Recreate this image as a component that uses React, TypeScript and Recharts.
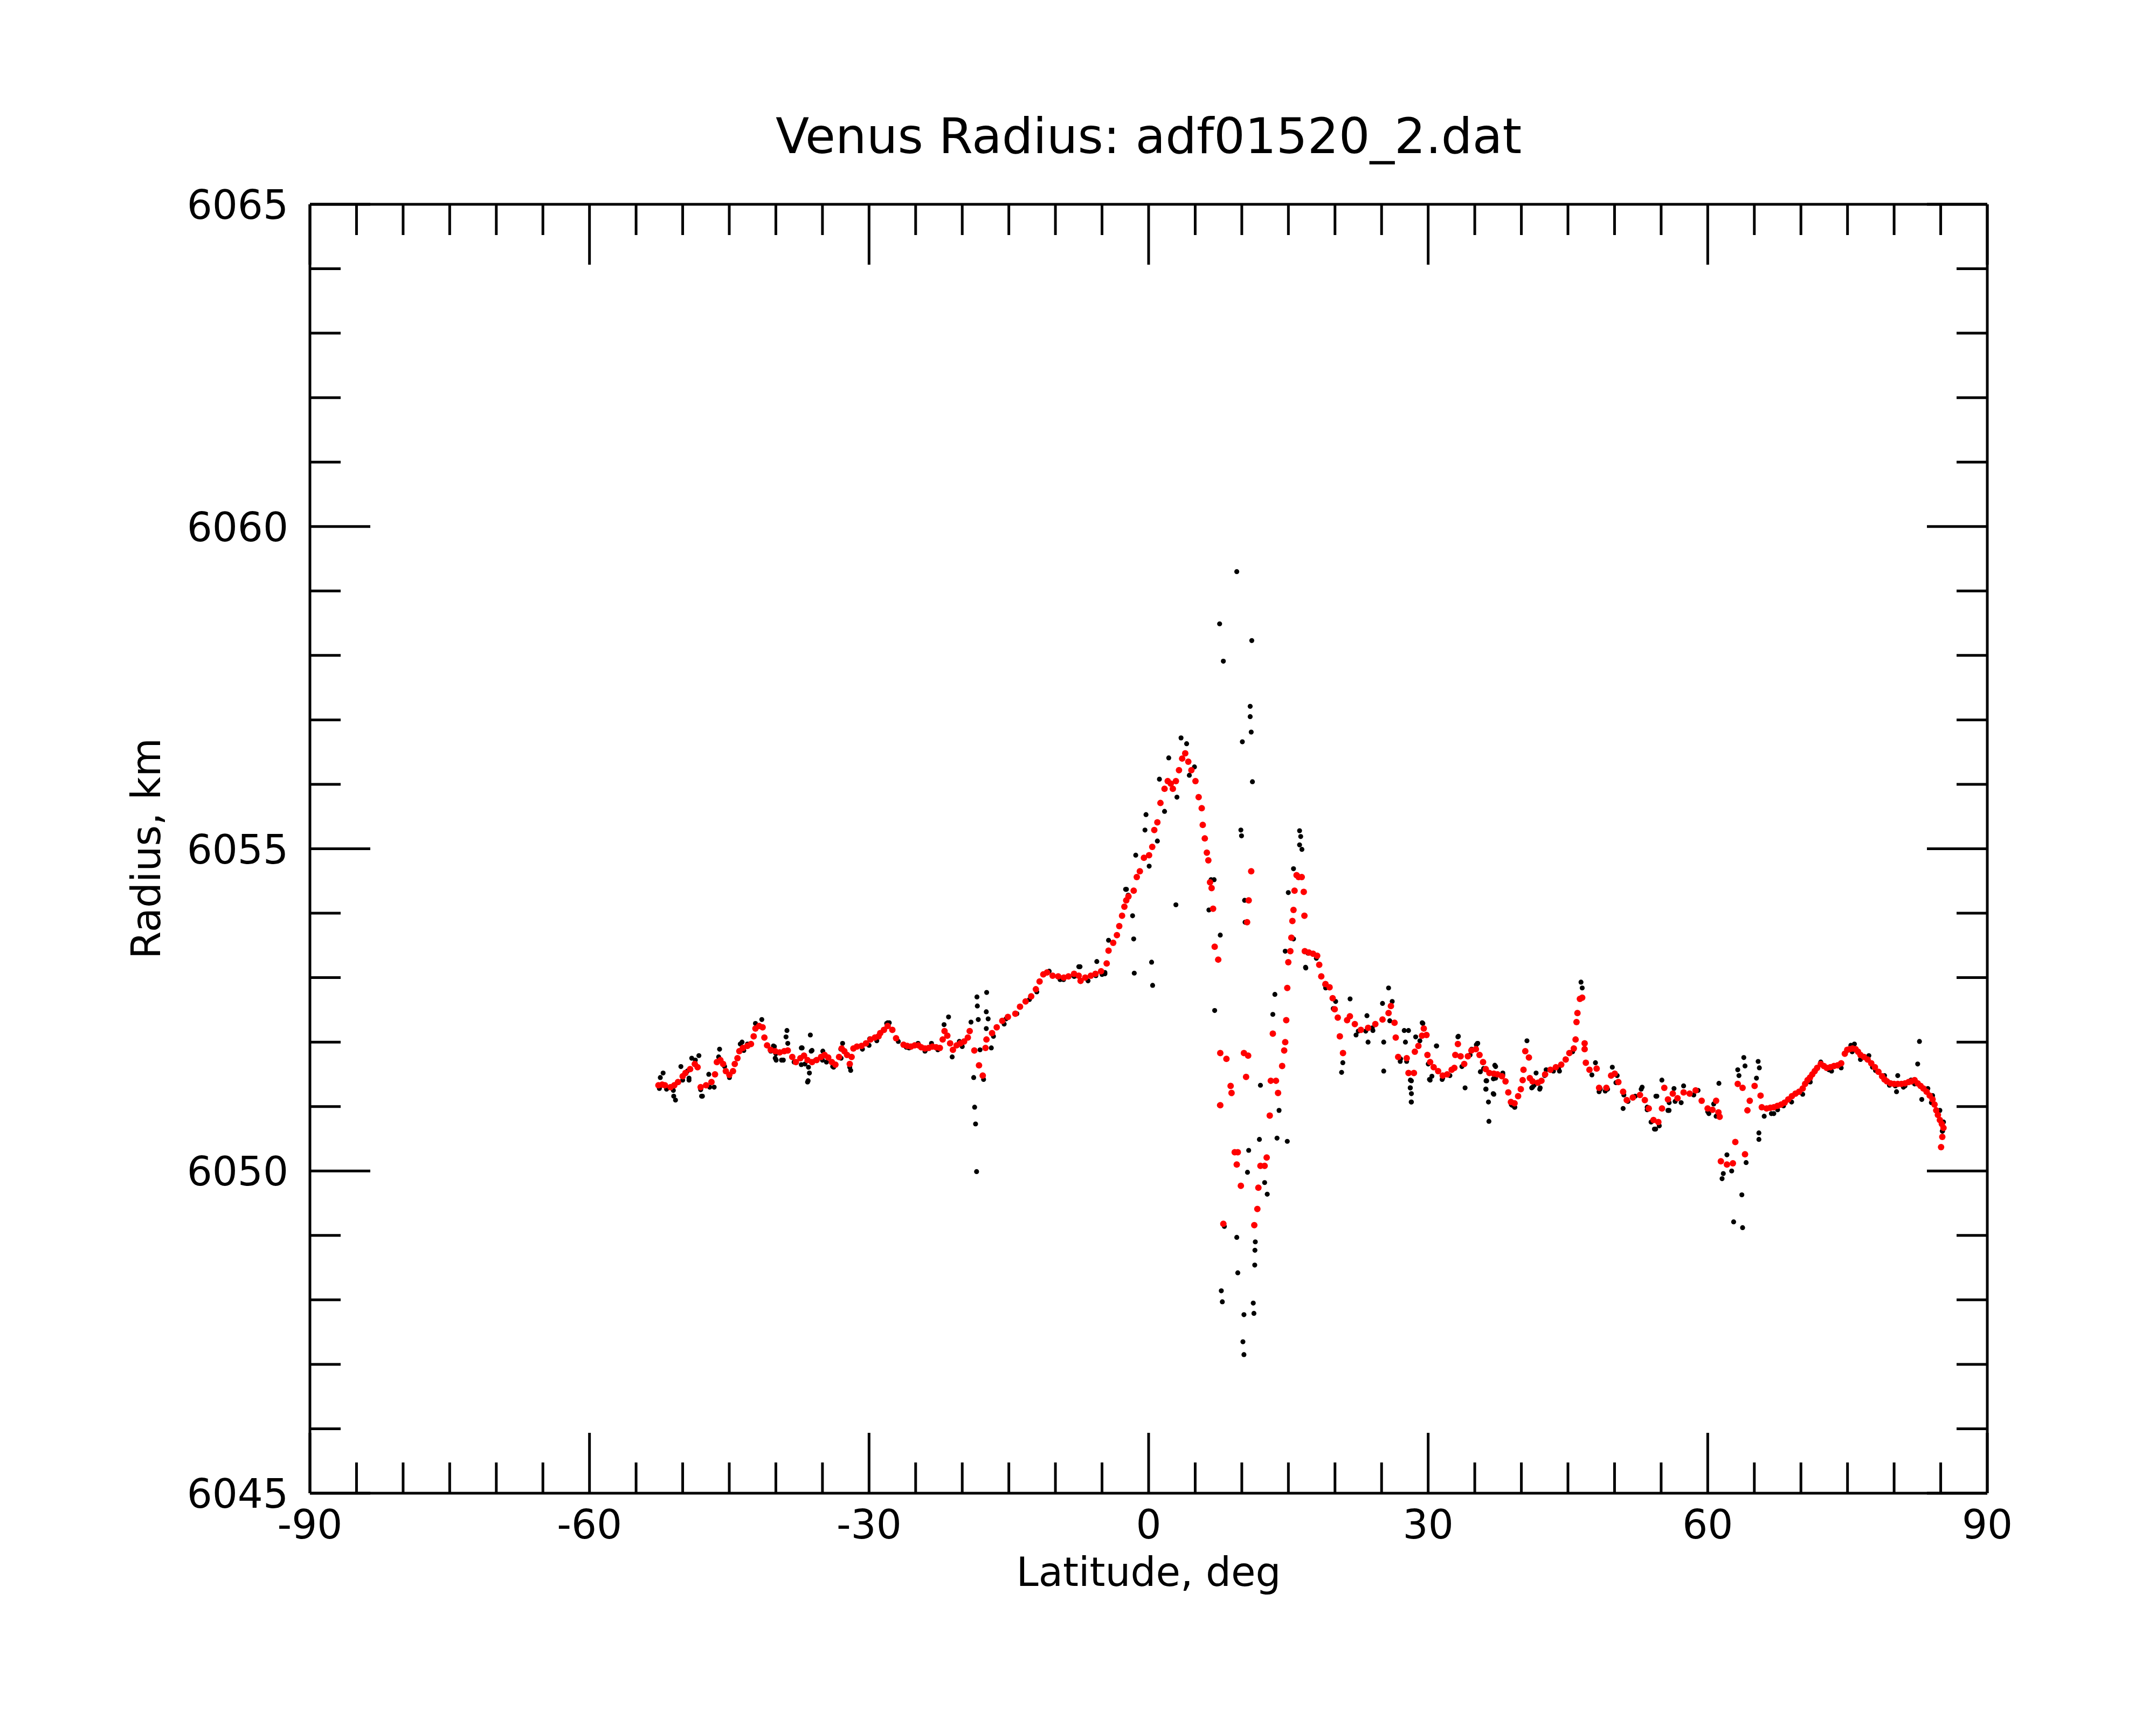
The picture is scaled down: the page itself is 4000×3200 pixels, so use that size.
import React from "react";
import { ScatterChart, Scatter, XAxis, YAxis } from "recharts";

const chartTitle = "Venus Radius: adf01520_2.dat";
const xTitle = "Latitude, deg";
const yTitle = "Radius, km";

const latTicks = [-90, -85, -80, -75, -70, -65, -60, -55, -50, -45, -40, -35, -30, -25, -20, -15, -10, -5,
  0, 5, 10, 15, 20, 25, 30, 35, 40, 45, 50, 55, 60, 65, 70, 75, 80, 85, 90];
const latLabels = [-90, -60, -30, 0, 30, 60, 90];
const radiusTicks = [6045, 6046, 6047, 6048, 6049, 6050, 6051, 6052, 6053, 6054, 6055,
  6056, 6057, 6058, 6059, 6060, 6061, 6062, 6063, 6064, 6065];
const radiusLabels = [6045, 6050, 6055, 6060, 6065];

// smoothed profile (red)
const redLat = [
  -52.6, -52.2, -51.9, -51.3, -50.9, -50.5, -50.0, -49.7, -49.2, -48.7, -48.4,
  -48.07, -47.49, -46.91, -46.53, -46.33, -45.95, -45.66, -45.37, -44.99, -44.6,
  -44.41, -44.12, -43.92, -43.54, -43.06, -42.67, -42.38, -42.19, -41.8, -41.42,
  -41.23, -40.94, -40.55, -40.07, -39.59, -39.1, -38.72, -38.24, -37.85, -37.37,
  -36.98, -36.6, -36.12, -35.63, -35.15, -34.77, -34.38, -33.99, -33.61, -33.22,
  -32.94, -32.65, -32.36, -32.07, -31.87, -31.68, -31.3, -30.81, -30.33, -29.85,
  -29.37, -28.98,
  -28.8, -28.4, -28.0, -27.5, -27.1,
  -26.3, -25.9, -25.5, -25.1, -24.7, -24.4, -24.0, -23.6, -23.2, -22.8,
  -22.4, -22.1, -21.9, -21.6, -21.3, -21.0, -20.6, -20.2, -19.8, -19.4,
  -19.2, -18.7, -18.2, -17.8, -17.5, -17.4, -16.8, -16.3, -15.7, -15.1,
  -14.3, -13.8, -13.2, -12.6, -12.1, -11.7, -11.3, -10.9, -10.3, -9.7,
  -9.1, -8.6, -8.0, -7.5, -7.3, -6.8, -6.2, -5.7, -5.1, -4.5,
  -4.3, -3.8, -3.4, -3.15, -2.85, -2.6, -2.4, -2.16, -1.6, -1.27,
  -0.94, -0.5, 0.05, 0.39, 0.61, 0.94, 1.27, 1.71, 2.05, 2.38,
  2.6, 2.93, 3.26, 3.6, 3.93, 4.26, 4.59, 5.03, 5.37, 5.7,
  5.81, 6.03, 6.25, 6.41, 6.59, 6.76, 6.92, 7.09, 7.47, 7.69,
  7.69, 8.02, 8.35, 8.8, 8.9, 9.24, 9.46, 9.57, 9.9, 10.23,
  10.46, 10.57, 10.68, 10.74, 11.01, 11.34, 11.67, 11.78, 12.0, 12.45,
  12.67, 13.0, 13.11, 13.33, 13.67, 13.89, 14.33, 14.55, 14.66, 14.77,
  14.88, 14.99, 15.21, 15.32, 15.43, 15.55, 15.66, 15.88, 16.1, 16.43,
  16.65, 16.72, 16.76, 17.2, 17.65, 18.09, 18.31, 18.53, 18.98, 19.42,
  19.75, 19.97, 20.3, 20.52, 20.86, 21.3, 21.6, 22.13, 22.78, 23.55,
  24.33, 25.1, 25.75, 26.0, 26.39, 26.52, 26.78,
  27.7, 27.89, 28.47, 28.57, 28.95, 29.34, 29.53, 29.82, 29.92, 30.21,
  30.59, 31.07, 31.56, 32.04, 32.52, 32.81, 32.91, 33.19, 33.48, 33.87,
  34.26, 34.64, 35.12, 35.51, 35.89, 36.18, 36.57, 37.05, 37.44, 37.92,
  38.3, 38.6, 38.88, 39.27, 39.65, 39.94, 40.14, 40.23, 40.42, 40.81,
  40.91, 41.2, 41.77, 42.16, 42.55, 43.12, 43.7, 44.28, 44.76, 45.15,
  45.63, 45.82, 45.92,
  46.02, 46.28, 46.53, 46.79, 46.79, 46.92, 47.31, 48.08, 48.34, 49.12,
  49.63, 50.02, 50.41, 50.92, 51.31, 51.96, 52.73, 53.25, 53.67, 54.18,
  54.7, 55.09, 55.34, 55.73, 56.25, 56.76, 57.41, 58.06, 58.7, 59.35,
  59.99, 60.51, 60.9, 61.15, 61.28, 61.41, 62.06, 62.7, 62.96, 63.22,
  63.74, 64.0, 64.26, 64.51, 65.03, 65.67, 65.8, 66.32, 66.71, 67.09,
  67.48, 67.87, 68.25, 68.64, 69.03, 69.42, 69.8, 70.19, 70.45, 70.71,
  70.97, 71.22, 71.48, 71.74, 72.13, 72.46, 72.77, 73.16, 73.55, 73.94,
  74.32, 74.71, 74.97, 75.23, 75.54, 75.87, 76.13, 76.39, 76.77, 77.16,
  77.55, 77.94, 78.32, 78.71, 78.97, 79.23, 79.62, 80.0, 80.39, 80.78,
  81.17, 81.55, 81.86, 82.2, 82.53, 82.84, 83.15, 83.49, 83.82, 84.13,
  84.34, 84.52, 84.7, 84.91, 85.12, 85.3, 85.17, 85.04,
];
const redRadius = [
  6051.33, 6051.34, 6051.33, 6051.30, 6051.33, 6051.38, 6051.47, 6051.52, 6051.58, 6051.66, 6051.61,
  6051.30, 6051.33, 6051.38, 6051.50, 6051.69, 6051.72, 6051.66, 6051.55, 6051.49, 6051.55,
  6051.66, 6051.75, 6051.86, 6051.91, 6051.94, 6051.97, 6052.09, 6052.21, 6052.25, 6052.23,
  6052.07, 6051.95, 6051.88, 6051.86, 6051.84, 6051.86, 6051.87, 6051.77, 6051.69, 6051.75,
  6051.79, 6051.72, 6051.69, 6051.72, 6051.77, 6051.80, 6051.76, 6051.69, 6051.65, 6051.77,
  6051.90, 6051.86, 6051.80, 6051.66, 6051.77, 6051.90, 6051.93, 6051.94, 6051.98, 6052.04,
  6052.07, 6052.09,
  6052.14, 6052.19, 6052.25, 6052.19, 6052.06,
  6051.96, 6051.94, 6051.93, 6051.95, 6051.95, 6051.92, 6051.90, 6051.91, 6051.93, 6051.92,
  6051.91, 6052.04, 6052.17, 6052.10, 6051.98, 6051.88, 6051.95, 6051.98, 6052.01, 6052.07,
  6052.17, 6051.87, 6051.64, 6051.48, 6051.91, 6052.04, 6052.14, 6052.23, 6052.33, 6052.39,
  6052.44, 6052.55, 6052.63, 6052.71, 6052.82, 6052.94, 6053.05, 6053.08, 6053.03, 6053.02,
  6053.00, 6053.02, 6053.06, 6053.03, 6052.95, 6053.00, 6053.03, 6053.06, 6053.10, 6053.22,
  6053.42, 6053.54, 6053.66, 6053.80, 6053.96, 6054.10, 6054.20, 6054.26, 6054.35, 6054.56,
  6054.65, 6054.86, 6054.90, 6055.03, 6055.29, 6055.41, 6055.71, 6055.93, 6056.05, 6056.01,
  6055.93, 6056.05, 6056.22, 6056.40, 6056.48, 6056.35, 6056.22, 6056.05, 6055.80, 6055.63,
  6055.37, 6055.16, 6054.94, 6054.82, 6054.48, 6054.39, 6054.07, 6053.48, 6053.28, 6051.83,
  6051.02, 6049.18, 6051.74, 6051.32, 6051.21, 6050.29, 6050.10, 6050.29, 6049.77, 6051.83,
  6051.46, 6053.86, 6051.79, 6054.20, 6054.65, 6049.16, 6049.41, 6049.74, 6050.08, 6050.08,
  6050.21, 6050.86, 6051.40, 6052.13, 6051.40, 6051.21, 6051.63, 6051.87, 6052.00, 6052.34,
  6052.84, 6053.24, 6053.41, 6053.62, 6053.88, 6054.05, 6054.35, 6054.59, 6054.56, 6054.56,
  6054.33, 6053.96, 6053.41, 6053.39, 6053.37, 6053.34, 6053.20, 6053.02, 6052.90, 6052.85,
  6052.68, 6052.51, 6052.38, 6052.09, 6051.83, 6052.34, 6052.40, 6052.28, 6052.19, 6052.22,
  6052.28, 6052.35, 6052.45, 6052.56, 6052.30, 6052.07, 6051.77,
  6051.75, 6051.52, 6051.52, 6051.85, 6051.94, 6052.10, 6052.21, 6052.11, 6051.80, 6051.69,
  6051.61, 6051.55, 6051.48, 6051.50, 6051.57, 6051.60, 6051.80, 6051.97, 6051.78, 6051.66,
  6051.78, 6051.87, 6051.89, 6051.80, 6051.69, 6051.58, 6051.52, 6051.51, 6051.50, 6051.47,
  6051.39, 6051.22, 6051.07, 6051.05, 6051.16, 6051.27, 6051.41, 6051.57, 6051.86, 6051.76,
  6051.44, 6051.39, 6051.37, 6051.40, 6051.50, 6051.57, 6051.61, 6051.65, 6051.73, 6051.83,
  6051.90, 6052.04, 6052.31,
  6052.45, 6052.67, 6052.69, 6051.98, 6051.89, 6051.68, 6051.57, 6051.59, 6051.29, 6051.29,
  6051.48, 6051.51, 6051.38, 6051.23, 6051.10, 6051.14, 6051.18, 6051.10, 6050.97, 6050.79,
  6050.76, 6050.97, 6051.29, 6051.11, 6051.20, 6051.13, 6051.22, 6051.20, 6051.25, 6051.09,
  6050.97, 6050.95, 6051.09, 6050.91, 6050.84, 6050.15, 6050.10, 6050.12, 6050.45, 6051.35,
  6051.29, 6050.26, 6050.94, 6051.09, 6051.32, 6051.17, 6050.99, 6050.97, 6050.98, 6050.99,
  6051.01, 6051.03, 6051.06, 6051.11, 6051.16, 6051.20, 6051.23, 6051.28, 6051.35, 6051.41,
  6051.45, 6051.50, 6051.55, 6051.60, 6051.66, 6051.63, 6051.60, 6051.61, 6051.63, 6051.64,
  6051.67, 6051.82, 6051.88, 6051.89, 6051.90, 6051.89, 6051.85, 6051.80, 6051.77, 6051.73,
  6051.67, 6051.61, 6051.54, 6051.47, 6051.42, 6051.39, 6051.36, 6051.35, 6051.35, 6051.35,
  6051.36, 6051.38, 6051.39, 6051.41, 6051.36, 6051.32, 6051.28, 6051.23, 6051.17, 6051.11,
  6051.03, 6050.94, 6050.87, 6050.79, 6050.73, 6050.67, 6050.53, 6050.37,
];

// raw measurements (black)
const blackLat = [
  -52.5, -52.4, -52.1, -51.0, -50.96, -50.77, -50.19, -49.5, -49.32, -49.03,
  -48.26, -47.97, -47.2, -46.62, -46.04, -45.5, -44.98, -43.63, -43.0, -42.19,
  -41.51, -40.16, -40.0, -39.39, -38.91, -38.81, -38.72, -37.27, -37.27, -36.6,
  -36.5, -36.4, -36.3, -36.21, -35.0, -33.0, -32.84, -31.97, -30.0, -28.0,
  -26.0, -24.0, -21.95, -21.47, -21.08, -20.0, -19.06, -18.77, -18.67, -18.57,
  -18.46, -18.42, -18.38, -18.28, -18.09, -17.71, -17.42, -17.42, -17.38, -17.22,
  -16.88, -15.5, -12.0, -9.5, -8.0, -7.49, -7.36, -6.5, -5.56, -5.0,
  -4.69, -4.3, -2.47, -2.38, -1.72, -1.6, -1.54, -1.38, -0.39, -0.28,
  0.06, 0.32, 0.43, 0.94, 1.16, 1.71, 2.16, 2.93, 3.04, 3.48,
  4.08, 4.37, 4.92, 6.47, 6.7, 7.03, 7.09, 7.47, 7.6, 7.62,
  7.69, 7.8, 7.91, 8.02, 8.13, 9.46, 9.46, 9.57, 9.9, 9.97,
  10.06, 10.12, 10.23, 10.23, 10.3, 10.35, 10.61, 10.74, 10.9, 10.9,
  11.01, 11.07, 11.14, 11.23, 11.3, 11.39, 11.41, 11.45, 11.89, 12.0,
  12.45, 12.73, 13.33, 13.55, 13.78, 14.0, 14.66, 14.88, 14.99, 15.55,
  15.55, 16.2, 16.32, 16.2, 16.45, 16.84, 16.87, 18.0, 19.0, 20.07,
  20.71, 20.84, 21.62, 22.5, 23.43, 23.55, 24.0, 25.1, 25.23, 25.23,
  25.75, 26.14, 27.0, 27.43, 27.56, 28.07, 28.2, 28.2, 28.2, 29.36,
  30.14, 30.91, 31.5, 33.24, 33.96, 34.5, 35.3, 36.21, 36.21, 36.47,
  36.52, 36.98, 37.0, 37.24, 39.0, 40.6, 41.11, 41.58, 42.02, 42.5,
  44.0, 46.4, 46.53, 47.57, 47.95, 48.34, 49.0, 49.76, 50.15, 50.92,
  51.0, 52.86, 52.96, 53.5, 54.28, 54.44, 54.54, 54.8, 55.08, 55.73,
  55.85, 56.5, 57.41, 58.5, 60.0, 61.2, 61.54, 61.67, 62.06, 62.57,
  62.78, 63.22, 63.35, 63.66, 63.74, 63.87, 64.0, 64.12, 65.23, 65.41,
  65.49, 65.49, 65.54, 66.06, 67.09, 67.5, 69.0, 71.0, 72.13, 73.0,
  75.5, 75.74, 77.29, 78.0, 79.5, 80.26, 80.39, 81.0, 82.53, 82.72,
  82.97, 83.62, 84.0, 85.2,
  // points hugging the smoothed profile
  -52.5, -51.73, -50.0, -49.32, -48.64, -48.07, -47.1, -43.82, -43.05, -42.09,
  -40.55, -39.97, -39.2, -38.04, -36.88, -35.73, -34.57, -33.8, -33.03, -32.07,
  -30.71, -29.94, -29.17, -28.11, -27.83, -26.86, -25.71, -24.74, -23.97, -23.3,
  -22.62, -20.31, -16.65, -15.3, -14.14, -12.79, -10.67, -9.13, -7.97, -7.3,
  -5.66, -4.69, -2.19, 17.1, 18.13, 18.91, 19.81, 22.26, 23.3, 24.07,
  25.88, 27.04, 27.69, 29.11, 30.01, 30.4, 31.56, 32.33, 33.62, 34.66,
  35.17, 35.95, 37.24, 38.01, 38.92, 39.3, 41.37, 42.66, 43.44, 43.95,
  44.73, 45.5, 48.47, 49.25, 50.28, 51.44, 52.22, 53.5, 54.41, 53.92,
  55.86, 57.15, 56.38, 58.96, 60.12, 60.64, 60.9, 66.83, 68.13, 70.19,
  70.97, 73.29, 74.32, 75.36, 76.39, 77.68, 78.97, 80.13, 81.17, 81.81,
  82.2, 84.13, 84.91, 85.3, 85.17,
  -47.88, -46.14, -43.44, -40.26, -40.07, -37.18, -36.54, -36.12, -34.96, -33.9,
  27.89, 28.09, 28.09, 28.18, 28.66, 29.43, 30.21, 30.88, 33.19, 35.32,
  35.6, 36.28, 36.18, 37.05, 37.15, 38.01, 39.27, 41.97, 41.2, 44.09,
];
const blackRadius = [
  6051.28, 6051.45, 6051.52, 6051.25, 6051.16, 6051.10, 6051.62, 6051.55, 6051.44, 6051.75,
  6051.79, 6051.16, 6051.50, 6051.30, 6051.89, 6051.62, 6051.45, 6052.00, 6051.95, 6052.29,
  6052.35, 6051.93, 6051.82, 6051.72, 6052.08, 6052.18, 6051.98, 6051.91, 6051.65, 6051.38,
  6051.61, 6051.52, 6052.11, 6051.86, 6051.72, 6051.75, 6051.98, 6051.56, 6051.95, 6052.30,
  6051.92, 6051.86, 6052.27, 6052.39, 6051.77, 6051.93, 6052.31, 6051.45, 6050.99, 6050.73,
  6049.99, 6052.70, 6052.56, 6052.35, 6051.88, 6051.42, 6052.47, 6052.21, 6052.77, 6052.36,
  6051.91, 6052.28, 6052.78, 6052.97, 6053.02, 6053.17, 6053.17, 6052.95, 6053.25, 6053.05,
  6053.08, 6053.58, 6054.37, 6054.37, 6053.96, 6053.60, 6053.07, 6054.90, 6055.29, 6055.53,
  6054.73, 6053.24, 6052.88, 6055.12, 6056.08, 6055.58, 6056.41, 6054.13, 6055.80, 6056.72,
  6056.63, 6056.14, 6056.27, 6054.05, 6054.52, 6054.52, 6052.49, 6053.28, 6051.02, 6058.49,
  6053.66, 6048.14, 6047.97, 6057.91, 6049.14, 6059.30, 6048.97, 6048.42, 6055.29, 6055.20,
  6056.66, 6047.35, 6047.15, 6047.77, 6054.20, 6053.86, 6049.98, 6050.32, 6057.21, 6057.05,
  6056.81, 6058.23, 6056.04, 6047.95, 6047.79, 6048.54, 6048.77, 6048.90, 6050.49, 6051.33,
  6049.82, 6049.64, 6052.43, 6052.74, 6050.51, 6050.94, 6053.41, 6050.46, 6054.32, 6054.69,
  6053.60, 6055.28, 6055.19, 6055.06, 6054.99, 6053.16, 6053.15, 6053.30, 6052.84, 6052.63,
  6051.53, 6051.68, 6052.67, 6052.17, 6052.41, 6052.00, 6052.22, 6052.60, 6052.00, 6051.55,
  6052.84, 6052.63, 6051.70, 6052.18, 6052.00, 6051.29, 6051.40, 6051.20, 6051.07, 6052.30,
  6051.42, 6051.94, 6051.42, 6052.09, 6051.29, 6051.80, 6051.98, 6051.40, 6051.27, 6051.07,
  6050.77, 6051.20, 6051.43, 6051.62, 6051.02, 6052.02, 6051.29, 6051.52, 6051.29, 6051.48,
  6051.60, 6052.93, 6052.84, 6051.49, 6051.68, 6051.23, 6051.24, 6051.61, 6051.37, 6050.97,
  6051.18, 6051.27, 6051.30, 6050.95, 6050.65, 6051.16, 6051.16, 6050.70, 6051.41, 6050.94,
  6050.94, 6051.08, 6051.32, 6051.18, 6050.92, 6051.36, 6049.88, 6049.96, 6050.25, 6050.00,
  6049.21, 6051.57, 6051.48, 6049.63, 6049.12, 6051.76, 6051.63, 6050.13, 6051.44, 6051.70,
  6050.59, 6050.49, 6051.60, 6050.85, 6050.89, 6050.95, 6051.07, 6051.38, 6051.69, 6051.57,
  6051.85, 6051.97, 6051.79, 6051.56, 6051.33, 6051.23, 6051.48, 6051.30, 6051.66, 6052.01,
  6051.11, 6051.28, 6051.06, 6050.62,
  // points hugging the smoothed profile
  6051.30, 6051.27, 6051.41, 6051.41, 6051.72, 6051.26, 6051.30, 6051.97, 6051.97, 6052.22,
  6051.86, 6051.72, 6051.72, 6051.69, 6051.66, 6051.72, 6051.69, 6051.61, 6051.89, 6051.61,
  6051.89, 6052.05, 6052.02, 6052.29, 6052.30, 6052.01, 6051.91, 6051.98, 6051.87, 6051.98,
  6051.88, 6052.01, 6052.09, 6052.36, 6052.44, 6052.66, 6053.10, 6052.97, 6053.02, 6052.94,
  6053.03, 6053.06, 6054.28, 6053.38, 6053.34, 6052.89, 6052.52, 6052.11, 6052.17, 6052.18,
  6052.33, 6051.74, 6051.70, 6052.02, 6051.66, 6051.47, 6051.44, 6051.48, 6051.62, 6051.89,
  6051.96, 6051.59, 6051.44, 6051.49, 6051.03, 6050.99, 6051.33, 6051.57, 6051.55, 6051.61,
  6051.74, 6051.85, 6051.27, 6051.27, 6051.48, 6051.08, 6051.16, 6050.99, 6050.65, 6050.76,
  6051.06, 6051.06, 6051.28, 6051.25, 6050.89, 6051.04, 6050.85, 6050.89, 6051.01, 6051.19,
  6051.42, 6051.55, 6051.60, 6051.95, 6051.73, 6051.61, 6051.48, 6051.32, 6051.32, 6051.41,
  6051.35, 6051.17, 6050.94, 6050.76, 6050.62,
  6051.16, 6051.77, 6051.87, 6051.94, 6051.75, 6051.91, 6051.40, 6051.87, 6051.86, 6051.62,
  6052.18, 6051.41, 6051.29, 6051.07, 6052.08, 6052.29, 6051.41, 6051.94, 6052.08, 6051.98,
  6051.54, 6051.40, 6051.27, 6051.19, 6051.64, 6051.52, 6050.99, 6051.27, 6051.30, 6051.55,
];

const redData = redLat.map((lat, i) => ({ lat, radius: redRadius[i] }));
const blackData = blackLat.map((lat, i) => ({ lat, radius: blackRadius[i] }));

const FONT = "'DejaVu Sans', sans-serif";
const INK = "#000000";
const LINE_W = 5;
const MAJOR_LEN = 112;
const MINOR_LEN = 57;
const LABEL_SIZE = 74;

function BottomTick({ x, y, payload }: any) {
  const major = latLabels.includes(payload.value);
  return (
    <g>
      <line x1={x} x2={x} y1={y} y2={y - (major ? MAJOR_LEN : MINOR_LEN)} stroke={INK} strokeWidth={LINE_W} />
      {major && (
        <text x={x} y={y + 84} textAnchor="middle" fontFamily={FONT} fontSize={LABEL_SIZE} fill={INK}>
          {payload.value}
        </text>
      )}
    </g>
  );
}

function TopTick({ x, y, payload }: any) {
  const major = latLabels.includes(payload.value);
  return (
    <g>
      <line x1={x} x2={x} y1={y} y2={y + (major ? MAJOR_LEN : MINOR_LEN)} stroke={INK} strokeWidth={LINE_W} />
    </g>
  );
}

function LeftTick({ x, y, payload }: any) {
  const major = radiusLabels.includes(payload.value);
  return (
    <g>
      <line x1={x} x2={x + (major ? MAJOR_LEN : MINOR_LEN)} y1={y} y2={y} stroke={INK} strokeWidth={LINE_W} />
      {major && (
        <text x={x - 40} y={y + 27} textAnchor="end" fontFamily={FONT} fontSize={LABEL_SIZE} fill={INK}>
          {payload.value}
        </text>
      )}
    </g>
  );
}

function RightTick({ x, y, payload }: any) {
  const major = radiusLabels.includes(payload.value);
  return (
    <g>
      <line x1={x} x2={x - (major ? MAJOR_LEN : MINOR_LEN)} y1={y} y2={y} stroke={INK} strokeWidth={LINE_W} />
    </g>
  );
}

const RedDot = (p: any) => <circle cx={p.cx} cy={p.cy} r={6} fill="#ff0000" />;
const BlackDot = (p: any) => <circle cx={p.cx} cy={p.cy} r={4.6} fill="#000000" />;

export default function App() {
  const axisLine = { stroke: INK, strokeWidth: LINE_W };
  return (
    <div style={{ position: "absolute", left: 0, top: 0, width: 4000, height: 3200, background: "#fff", fontFamily: FONT }}>
      <ScatterChart width={4000} height={3200} margin={{ top: 349, right: 253, bottom: 400, left: 515 }}>
        <XAxis
          xAxisId="bottom"
          dataKey="lat"
          type="number"
          domain={[-90, 90]}
          allowDataOverflow
          ticks={latTicks}
          interval={0}
          height={30}
          tickSize={0}
          tickMargin={0}
          tickLine={false}
          axisLine={axisLine}
          tick={<BottomTick />}
        />
        <XAxis
          xAxisId="top"
          dataKey="lat"
          orientation="top"
          type="number"
          domain={[-90, 90]}
          allowDataOverflow
          ticks={latTicks}
          interval={0}
          height={30}
          tickSize={0}
          tickMargin={0}
          tickLine={false}
          axisLine={axisLine}
          tick={<TopTick />}
        />
        <YAxis
          yAxisId="left"
          dataKey="radius"
          type="number"
          domain={[6045, 6065]}
          allowDataOverflow
          ticks={radiusTicks}
          interval={0}
          width={60}
          tickSize={0}
          tickMargin={0}
          tickLine={false}
          axisLine={axisLine}
          tick={<LeftTick />}
        />
        <YAxis
          yAxisId="right"
          dataKey="radius"
          orientation="right"
          type="number"
          domain={[6045, 6065]}
          allowDataOverflow
          ticks={radiusTicks}
          interval={0}
          width={60}
          tickSize={0}
          tickMargin={0}
          tickLine={false}
          axisLine={axisLine}
          tick={<RightTick />}
        />
        <Scatter
          data={blackData}
          xAxisId="top"
          yAxisId="right"
          shape={BlackDot}
          isAnimationActive={false}
        />
        <Scatter
          data={redData}
          xAxisId="bottom"
          yAxisId="left"
          shape={RedDot}
          isAnimationActive={false}
        />
      </ScatterChart>
      <div
        style={{
          position: "absolute", left: 1131, top: 207, width: 2000, textAlign: "center",
          fontSize: 91, lineHeight: "91px", color: INK, whiteSpace: "nowrap",
        }}
      >
        {chartTitle}
      </div>
      <div
        style={{
          position: "absolute", left: 1131, top: 2887, width: 2000, textAlign: "center",
          fontSize: LABEL_SIZE, lineHeight: "58px", color: INK, whiteSpace: "nowrap",
        }}
      >
        {xTitle}
      </div>
      <div
        style={{
          position: "absolute", left: 271 - 500, top: 1574 - 37, width: 1000, height: 74, textAlign: "center",
          fontSize: LABEL_SIZE, lineHeight: `${LABEL_SIZE}px`, color: INK, whiteSpace: "nowrap",
          transform: "rotate(-90deg)",
        }}
      >
        {yTitle}
      </div>
    </div>
  );
}
